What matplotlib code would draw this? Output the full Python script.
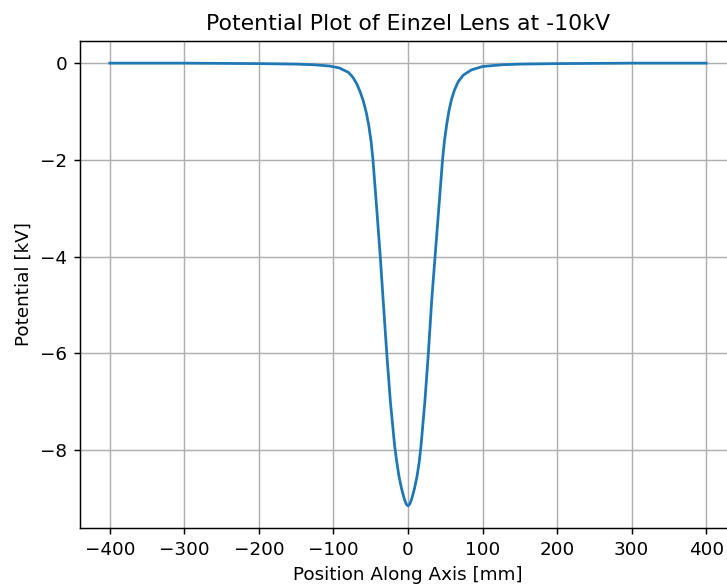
import numpy as np
import matplotlib
matplotlib.use('Agg')
import matplotlib.pyplot as plt

# position along axis (mm) and potential (kV)
position = [-400, -300, -250, -200, -150, -125, -105, -92, -80, -74, -69, -64.5, -60, -56,
            -52.5, -49.5, -47, -44.5, -42, -37.2, -33.3, -28.5, -23.6, -18, -15, -12, -8.4,
            -4.9, -2.5, 0,
            2.5, 4.9, 8.4, 12, 15, 17.5, 22.6, 27.3, 31.8, 36.3, 41.3, 43.8, 46.3,
            48.8, 51.8, 55, 58.5, 62.5, 67.5, 74, 85, 100, 125, 150, 200, 250, 300, 400]
potential = [0, 0, -0.005, -0.01, -0.02, -0.035, -0.06, -0.1, -0.19, -0.29, -0.42, -0.58, -0.78, -1.02,
             -1.3, -1.62, -2.0, -2.5, -3.0, -4.0, -4.9, -6.0, -7.0, -7.9, -8.25, -8.55, -8.81,
             -9.01, -9.11, -9.15,
             -9.11, -9.01, -8.81, -8.55, -8.25, -7.9, -7.0, -6.0, -4.9, -4.0, -3.0, -2.5, -2.0,
             -1.62, -1.28, -0.98, -0.74, -0.55, -0.38, -0.25, -0.14, -0.07, -0.035, -0.02, -0.01, -0.005, 0, 0]

fig = plt.figure(figsize=(727/132, 587/132), dpi=132)
ax = fig.add_axes([80/727, 59/587, 656/727, 487/587])
ax.plot(position, potential)
ax.set_title('Potential Plot of Einzel Lens at -10kV')
ax.set_xlabel('Position Along Axis [mm]')
ax.set_ylabel('Potential [kV]')
ax.grid(True)
fig.savefig('out.png', dpi=132)
